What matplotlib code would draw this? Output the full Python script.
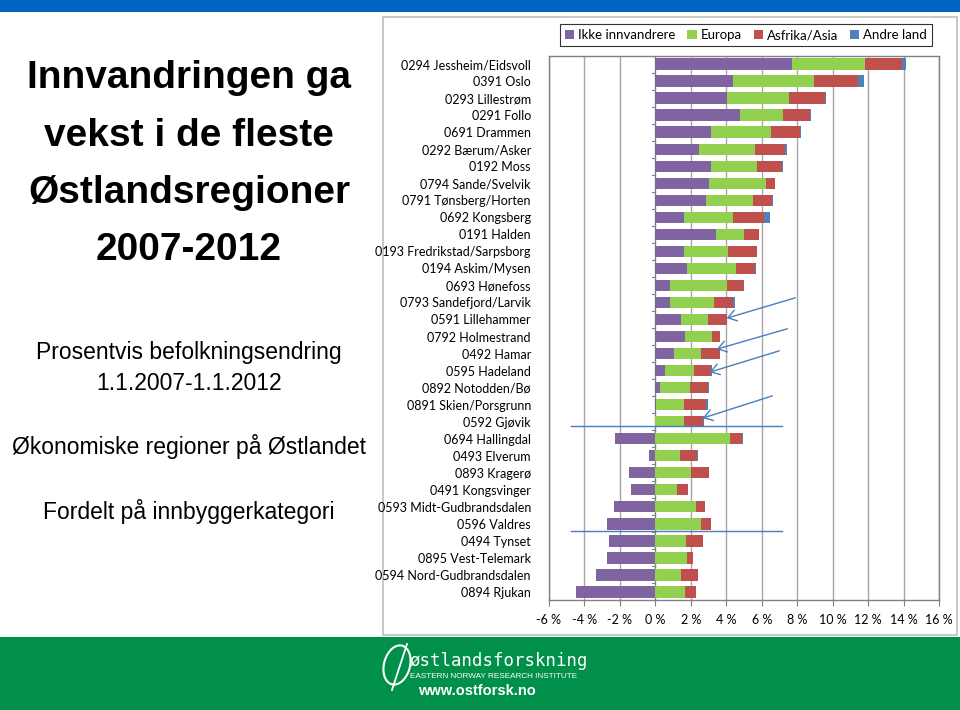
import numpy as np
import matplotlib
matplotlib.use("Agg")
import matplotlib.pyplot as plt
from matplotlib.patches import Rectangle, Ellipse, FancyArrowPatch

regions = ["0294 Jessheim/Eidsvoll", "0391 Oslo", "0293 Lillestrøm", "0291 Follo",
           "0691 Drammen", "0292 Bærum/Asker", "0192 Moss", "0794 Sande/Svelvik",
           "0791 Tønsberg/Horten", "0692 Kongsberg", "0191 Halden",
           "0193 Fredrikstad/Sarpsborg", "0194 Askim/Mysen", "0693 Hønefoss",
           "0793 Sandefjord/Larvik", "0591 Lillehammer", "0792 Holmestrand",
           "0492 Hamar", "0595 Hadeland", "0892 Notodden/Bø", "0891 Skien/Porsgrunn",
           "0592 Gjøvik", "0694 Hallingdal", "0493 Elverum", "0893 Kragerø",
           "0491 Kongsvinger", "0593 Midt-Gudbrandsdalen", "0596 Valdres",
           "0494 Tynset", "0895 Vest-Telemark", "0594 Nord-Gudbrandsdalen", "0894 Rjukan"]

ikke_innvandrere = [7.73, 4.40, 4.06, 4.77, 3.12, 2.48, 3.12, 3.01, 2.84, 1.64, 3.40,
                    1.64, 1.79, 0.83, 0.83, 1.43, 1.69, 1.03, 0.55, 0.24, 0.06,
                    0.00, -2.26, -0.36, -1.50, -1.35, -2.35, -2.73, -2.63, -2.73, -3.35, -4.49]
europa = [4.10, 4.57, 3.48, 2.44, 3.38, 3.12, 2.61, 3.25, 2.65, 2.76, 1.58,
          2.48, 2.76, 3.20, 2.48, 1.56, 1.52, 1.56, 1.64, 1.73, 1.56,
          1.62, 4.21, 1.41, 2.01, 1.20, 2.27, 2.59, 1.75, 1.77, 1.47, 1.65]
afrika_asia = [2.10, 2.44, 2.03, 1.52, 1.65, 1.71, 1.43, 0.51, 1.11, 1.75, 0.85,
               1.60, 1.07, 0.98, 1.09, 1.07, 0.45, 1.03, 0.96, 1.02, 1.22,
               1.05, 0.66, 0.96, 1.00, 0.66, 0.51, 0.55, 0.92, 0.34, 0.92, 0.64]
andre_land = [0.22, 0.36, 0.04, 0.04, 0.04, 0.13, 0.04, 0.00, 0.04, 0.34, 0.04,
              0.00, 0.08, 0.00, 0.09, 0.00, 0.00, 0.00, 0.04, 0.04, 0.11,
              0.06, 0.09, 0.04, 0.00, 0.00, 0.00, 0.00, 0.00, 0.00, 0.00, 0.00]

series_names = ["Ikke innvandrere", "Europa", "Asfrika/Asia", "Andre land"]
colors = ["#8064A2", "#92D050", "#C0504D", "#4F81BD"]
xticks = [-6, -4, -2, 0, 2, 4, 6, 8, 10, 12, 14, 16]

W, H = 960, 710
fig = plt.figure(figsize=(W / 100, H / 100), dpi=100)
fig.patch.set_facecolor("white")

def fx(x):
    return x / W

def fy(y):
    return 1 - y / H

# background shapes (behind axes)
bg = fig.add_axes([0, 0, 1, 1], zorder=-5)
bg.set_xlim(0, W)
bg.set_ylim(H, 0)
bg.axis("off")
bg.add_patch(Rectangle((0, 0), W, 12, facecolor="#0066C2", edgecolor="none"))
bg.add_patch(Rectangle((0, 637), W, H - 637, facecolor="#00904A", edgecolor="none"))
bg.add_patch(Rectangle((383, 17), 957 - 383, 635 - 17, facecolor="white",
                       edgecolor="#BFBFBF", linewidth=1.2))

title_font = ["Liberation Sans", "DejaVu Sans"]
title_lines = [("Innvandringen ga", 78), ("vekst i de fleste", 136),
               ("Østlandsregioner", 193), ("2007-2012", 250)]
for t, yy in title_lines:
    fig.text(fx(189), fy(yy), t, ha="center", va="center", fontsize=28,
             fontweight="bold", family=title_font, color="black")
sub_lines = [("Prosentvis befolkningsendring", 352), ("1.1.2007-1.1.2012", 384),
             ("Økonomiske regioner på Østlandet", 446), ("Fordelt på innbyggerkategori", 512)]
for t, yy in sub_lines:
    fig.text(fx(189), fy(yy), t, ha="center", va="center", fontsize=16.5,
             family=title_font, color="black")

# axes
ax = fig.add_axes([fx(549), fy(600.3), fx(939 - 549), (600.3 - 55.7) / H], zorder=2)
n = len(regions)
y = np.arange(n)
purple = np.array(ikke_innvandrere)
base = np.maximum(purple, 0)
bh = 0.68
ax.barh(y, purple, height=bh, color=colors[0], label=series_names[0], zorder=3)
left = base.copy()
for vals, c, name in zip([europa, afrika_asia, andre_land], colors[1:], series_names[1:]):
    v = np.array(vals)
    ax.barh(y, v, left=left, height=bh, color=c, label=name, zorder=3)
    left = left + v

ax.set_ylim(n - 0.5, -0.5)
ax.set_xlim(-6, 16)
ax.set_xticks(xticks)
ax.set_xticklabels([f"{v} %" for v in xticks])
ax.set_yticks(y)
ax.set_yticklabels(regions)
label_font = ["Lato", "DejaVu Sans"]
for lab in ax.get_yticklabels():
    lab.set_family(label_font)
    lab.set_fontsize(9.0)
for lab in ax.get_xticklabels():
    lab.set_family(label_font)
    lab.set_fontsize(9.0)
ax.tick_params(axis="y", length=0, pad=13)
ax.tick_params(axis="x", length=4, pad=6, color="#808080", direction="out")
ax.grid(axis="x", color="#A6A6A6", linewidth=1.0, zorder=0)
ax.set_axisbelow(True)
for s in ax.spines.values():
    s.set_color("#808080")
    s.set_linewidth(1.0)
for b in np.arange(-0.5, n, 1.0):
    ax.plot([-0.2, 0], [b, b], color="#808080", linewidth=0.8, zorder=4)
ax.axvline(0, color="#808080", linewidth=0.8, zorder=2)

# legend
handles, labels = ax.get_legend_handles_labels()
leg = fig.legend(handles, labels, loc="center", bbox_to_anchor=(fx(746), fy(35)),
                 ncol=4, frameon=True, fancybox=False, handlelength=0.7,
                 handleheight=0.7, handletextpad=0.3, columnspacing=0.9,
                 prop={"family": label_font, "size": 9.5}, borderpad=0.35)
leg.get_frame().set_edgecolor("black")
leg.get_frame().set_linewidth(0.8)

# annotation lines and arrows (overlay)
ov = fig.add_axes([0, 0, 1, 1], zorder=10)
ov.set_xlim(0, W)
ov.set_ylim(H, 0)
ov.axis("off")
ov.patch.set_alpha(0)
acol = "#4A7EBB"
arrows = [((798, 297), (724, 319)), ((790, 328), (714, 350)),
          ((782, 350), (707, 373)), ((775, 395), (700, 419))]
for (x0, y0), (x1, y1) in arrows:
    ov.add_patch(FancyArrowPatch((x0, y0), (x1, y1),
                                 arrowstyle="->,head_length=6,head_width=4",
                                 color=acol, linewidth=1.0))
for yy in [425.5, 531]:
    ov.plot([571, 782], [yy, yy], color=acol, linewidth=1.0)

# footer logo
ov.add_patch(Ellipse((397, 665), 26, 40, angle=15, fill=False, edgecolor="white",
                     linewidth=1.5))
ov.plot([392, 407], [690, 644], color="white", linewidth=1.3)
ov.text(410, 661, "østlandsforskning", color="white", fontsize=12.5,
        family=["DejaVu Sans Mono", "DejaVu Sans"], ha="left", va="center")
ov.text(410, 677, "EASTERN NORWAY RESEARCH INSTITUTE", color="white",
        fontsize=5.9, family=title_font, ha="left", va="center")
ov.text(418, 691, "www.ostforsk.no", color="white", fontsize=10.5,
        fontweight="bold", family=["Liberation Sans", "DejaVu Sans"],
        ha="left", va="center")

fig.savefig("out.png", dpi=100)
